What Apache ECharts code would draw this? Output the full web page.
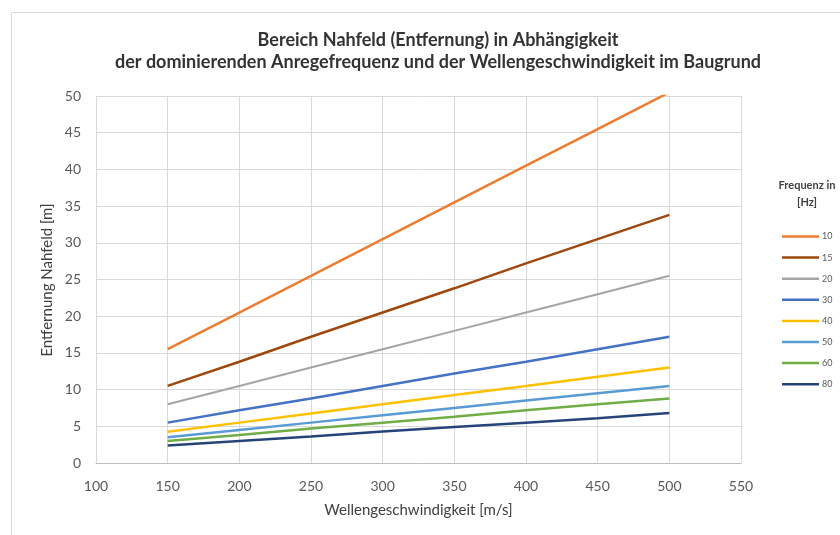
<!DOCTYPE html>
<html><head><meta charset="utf-8">
<script src="https://cdn.jsdelivr.net/npm/echarts@6/dist/echarts.min.js"></script>
<style>html,body{margin:0;padding:0;background:#fff}#c{width:840px;height:535px}</style>
</head><body><div id="c"></div>
<script>
const velocities = [150, 200, 250, 300, 350, 400, 450, 500];
const seriesNames = ['10', '15', '20', '30', '40', '50', '60', '80'];
const f10 = [15.5, 20.5, 25.5, 30.5, 35.5, 40.5, 45.5, 50.5];
const f15 = [10.5, 13.8, 17.2, 20.5, 23.8, 27.2, 30.5, 33.8];
const f20 = [8.0, 10.5, 13.0, 15.5, 18.0, 20.5, 23.0, 25.5];
const f30 = [5.5, 7.2, 8.8, 10.5, 12.2, 13.8, 15.5, 17.2];
const f40 = [4.25, 5.5, 6.75, 8.0, 9.25, 10.5, 11.75, 13.0];
const f50 = [3.5, 4.5, 5.5, 6.5, 7.5, 8.5, 9.5, 10.5];
const f60 = [3.0, 3.8, 4.7, 5.5, 6.3, 7.2, 8.0, 8.8];
const f80 = [2.4, 3.0, 3.6, 4.3, 4.9, 5.5, 6.1, 6.8];
const allValues = [f10, f15, f20, f30, f40, f50, f60, f80];
const colors = ['#ED7D31', '#9E480E', '#A5A5A5', '#4472C4', '#FFC000', '#5B9BD5', '#70AD47', '#264478'];
const widths = [2.5, 2.5, 2, 2.5, 2.5, 2.5, 2.5, 2.5];
const yAxisTitle = 'Entfernung Nahfeld [m]';

const FONT = 'Lato';
const chart = echarts.init(document.getElementById('c'), null, {renderer: 'canvas'});
chart.setOption({
  animation: false,
  backgroundColor: '#fff',
  color: colors,
  textStyle: {fontFamily: FONT},
  title: [{
    text: 'Bereich Nahfeld (Entfernung) in Abhängigkeit\nder dominierenden Anregefrequenz und der Wellengeschwindigkeit im Baugrund',
    left: 433, top: 24, textAlign: 'center',
    textStyle: {fontFamily: FONT, fontSize: 18, fontWeight: 'bold', color: '#333', lineHeight: 22}
  }, {
    text: 'Frequenz in\n[Hz]',
    left: 802, top: 172, textAlign: 'center',
    textStyle: {fontFamily: FONT, fontSize: 11, fontWeight: 'bold', color: '#404040', lineHeight: 17}
  }],
  graphic: [{
    type: 'rect', shape: {x: 11.5, y: 12.5, width: 840, height: 540},
    style: {fill: 'none', stroke: '#d9d9d9', lineWidth: 1}, silent: true, z: -1
  }, {
    type: 'text', x: 47, y: 280, rotation: Math.PI / 2,
    style: {text: yAxisTitle, fontFamily: FONT, fontSize: 15, fill: '#404040',
            align: 'center', verticalAlign: 'middle'},
    silent: true
  }],
  legend: {
    orient: 'vertical', left: 777, top: 227,
    itemWidth: 37, itemHeight: 2.5, itemGap: 12.1,
    icon: 'rect',
    textStyle: {fontFamily: FONT, fontSize: 9, color: '#595959', padding: [0, 0, 0, -2]},
    data: seriesNames
  },
  grid: {left: 96, right: 99, top: 96, bottom: 72, containLabel: false},
  xAxis: {
    type: 'value', min: 100, max: 550, interval: 50,
    name: 'Wellengeschwindigkeit [m/s]', nameLocation: 'middle', nameGap: 40,
    nameTextStyle: {fontFamily: FONT, fontSize: 15, color: '#404040'},
    axisLine: {show: true, lineStyle: {color: '#bfbfbf', width: 1}},
    axisTick: {show: false},
    axisLabel: {fontFamily: FONT, fontSize: 14, color: '#595959', margin: 16},
    splitLine: {show: true, lineStyle: {color: '#d9d9d9', width: 1}}
  },
  yAxis: {
    type: 'value', min: 0, max: 50, interval: 5,
    axisLine: {show: false},
    axisTick: {show: false},
    axisLabel: {fontFamily: FONT, fontSize: 14, color: '#595959', margin: 15},
    splitLine: {show: true, lineStyle: {color: '#d9d9d9', width: 1}}
  },
  series: seriesNames.map((n, i) => ({
    name: n, type: 'line',
    data: velocities.map((v, j) => [v, allValues[i][j]]),
    showSymbol: false, symbol: 'none', clip: true,
    lineStyle: {width: widths[i], color: colors[i]},
    itemStyle: {color: colors[i]}
  }))
});
</script></body></html>
